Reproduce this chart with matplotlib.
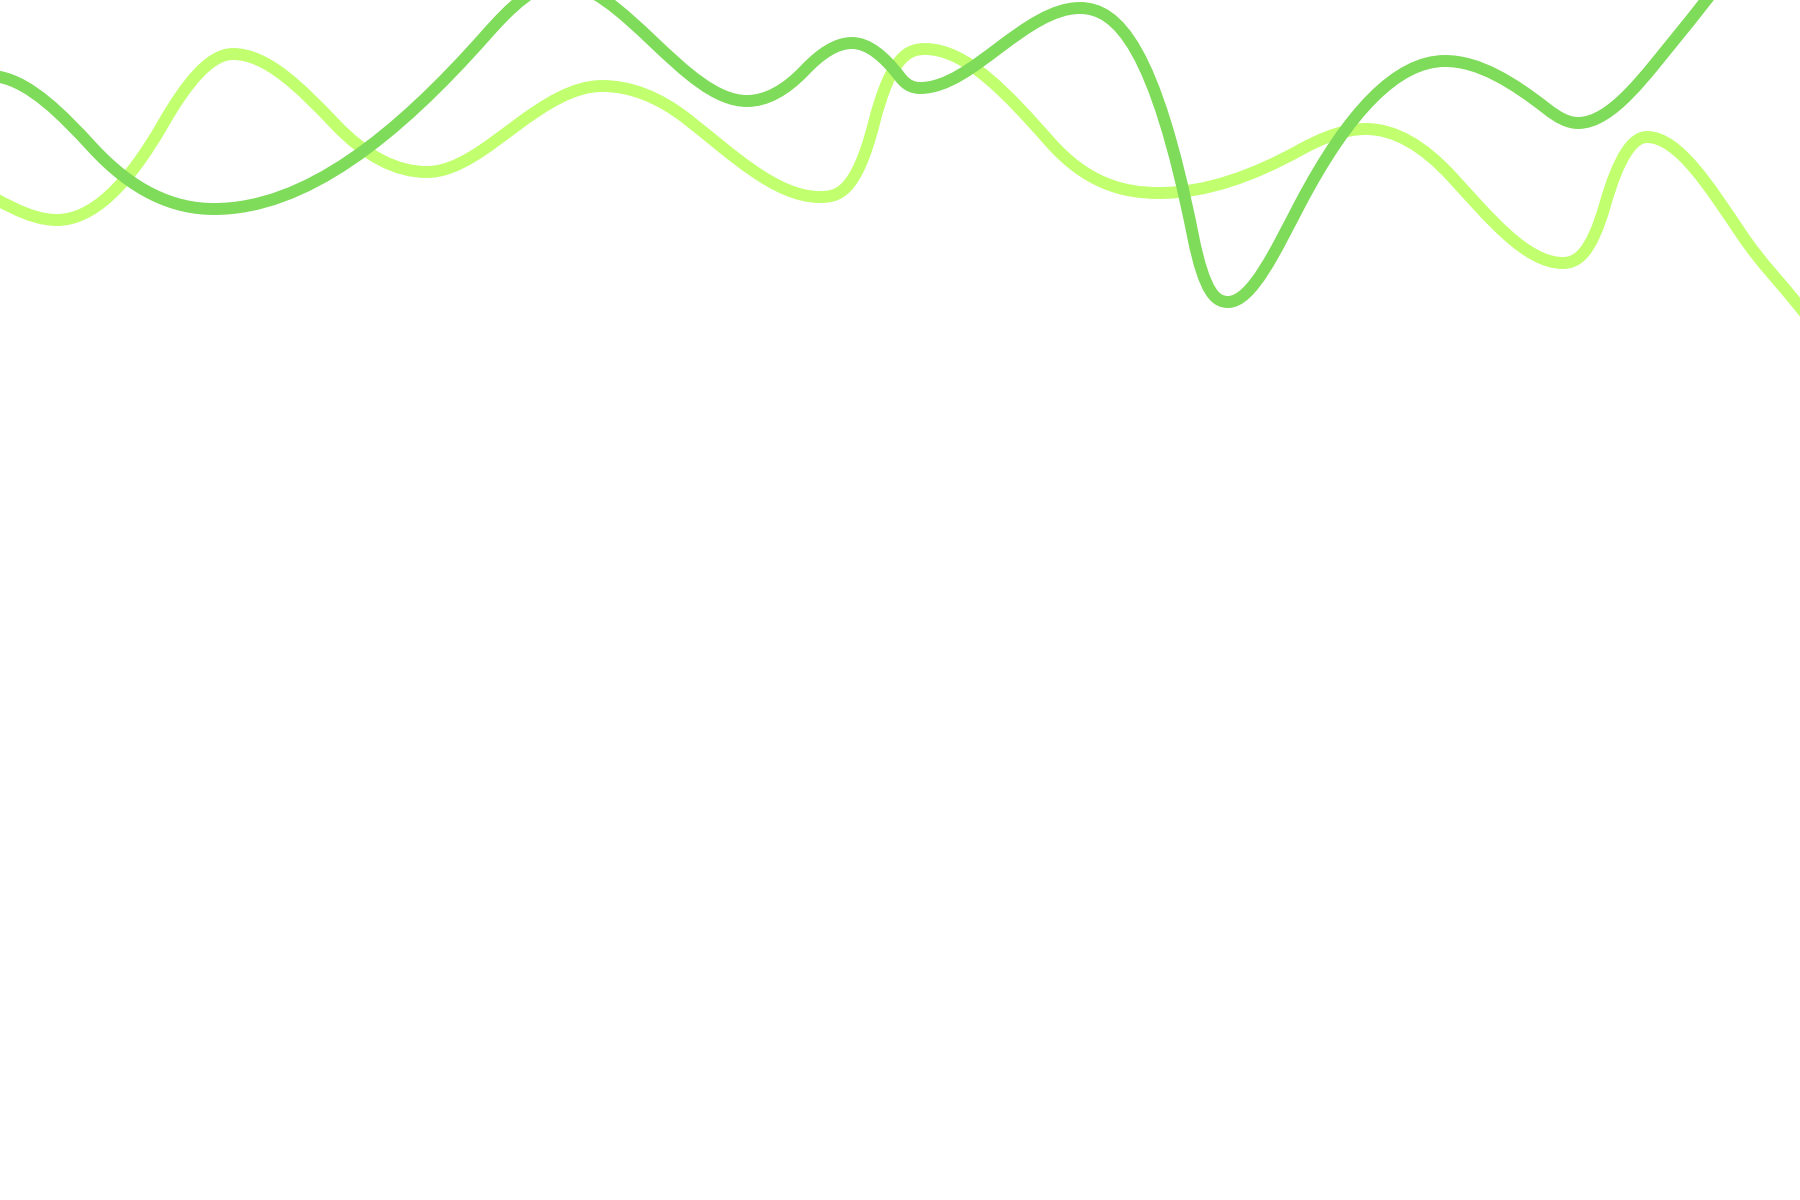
import numpy as np
import matplotlib
matplotlib.use("Agg")
import matplotlib.pyplot as plt
from matplotlib.path import Path
from matplotlib.patches import PathPatch

# wave nodes read off the picture (canvas units, y measured from the top)
# and the slope dy/dx of the wave at each node
light_x = [-30, 57, 163, 233, 335, 427, 517, 602, 687, 820, 874, 925, 1050, 1159, 1300, 1366, 1452, 1563, 1605, 1647, 1742, 1800, 1840]
light_y = [185, 220, 124, 54, 124, 172, 125, 86, 119, 197, 123, 49, 142, 193, 150, 129, 177, 263, 205, 137, 235, 307, 357]
light_slope = [0.52, 0, -1.74, 0, 1.05, 0, -0.74, 0, 0.78, 0, -3.9, 0, 1.13, 0, -0.55, 0, 1.09, 0, -3.5, 0, 1.48, 1.25, 1.25]

dark_x = [-40, 0, 92, 214, 486, 560, 747, 805, 852, 900, 920, 1000, 1080, 1193, 1228, 1300, 1445, 1547, 1578, 1680, 1760]
dark_y = [74, 77, 147, 209, 35, -17, 101, 70, 43, 77, 88, 47, 8, 236, 302, 204, 61, 109, 123, 33, -70]
dark_slope = [0, 0.2, 1.09, 0, -1.13, 0, 0, -1.05, 0, 1.31, 0, -0.75, 0, 5.0, 0, -1.9, 0, 0.78, 0, -1.22, -1.3]

light_color = "#c1ff6f"
dark_color = "#7fdb5a"


def wave_path(x, y, m):
    # cubic Hermite pieces written as Bezier segments
    verts = [(x[0], y[0])]
    codes = [Path.MOVETO]
    for i in range(len(x) - 1):
        h = (x[i + 1] - x[i]) / 3
        verts += [(x[i] + h, y[i] + m[i] * h),
                  (x[i + 1] - h, y[i + 1] - m[i + 1] * h),
                  (x[i + 1], y[i + 1])]
        codes += [Path.CURVE4] * 3
    return Path(verts, codes)


fig = plt.figure(figsize=(18, 12), dpi=100)
ax = fig.add_axes([0, 0, 1, 1])
ax.set_xlim(0, 1800)
ax.set_ylim(1200, 0)
ax.axis("off")

ax.add_patch(PathPatch(wave_path(light_x, light_y, light_slope), facecolor="none",
                       edgecolor=light_color, lw=8.6, capstyle="butt", joinstyle="round"))
ax.add_patch(PathPatch(wave_path(dark_x, dark_y, dark_slope), facecolor="none",
                       edgecolor=dark_color, lw=8.6, capstyle="butt", joinstyle="round"))

fig.savefig("out.png", dpi=100, facecolor="white")
